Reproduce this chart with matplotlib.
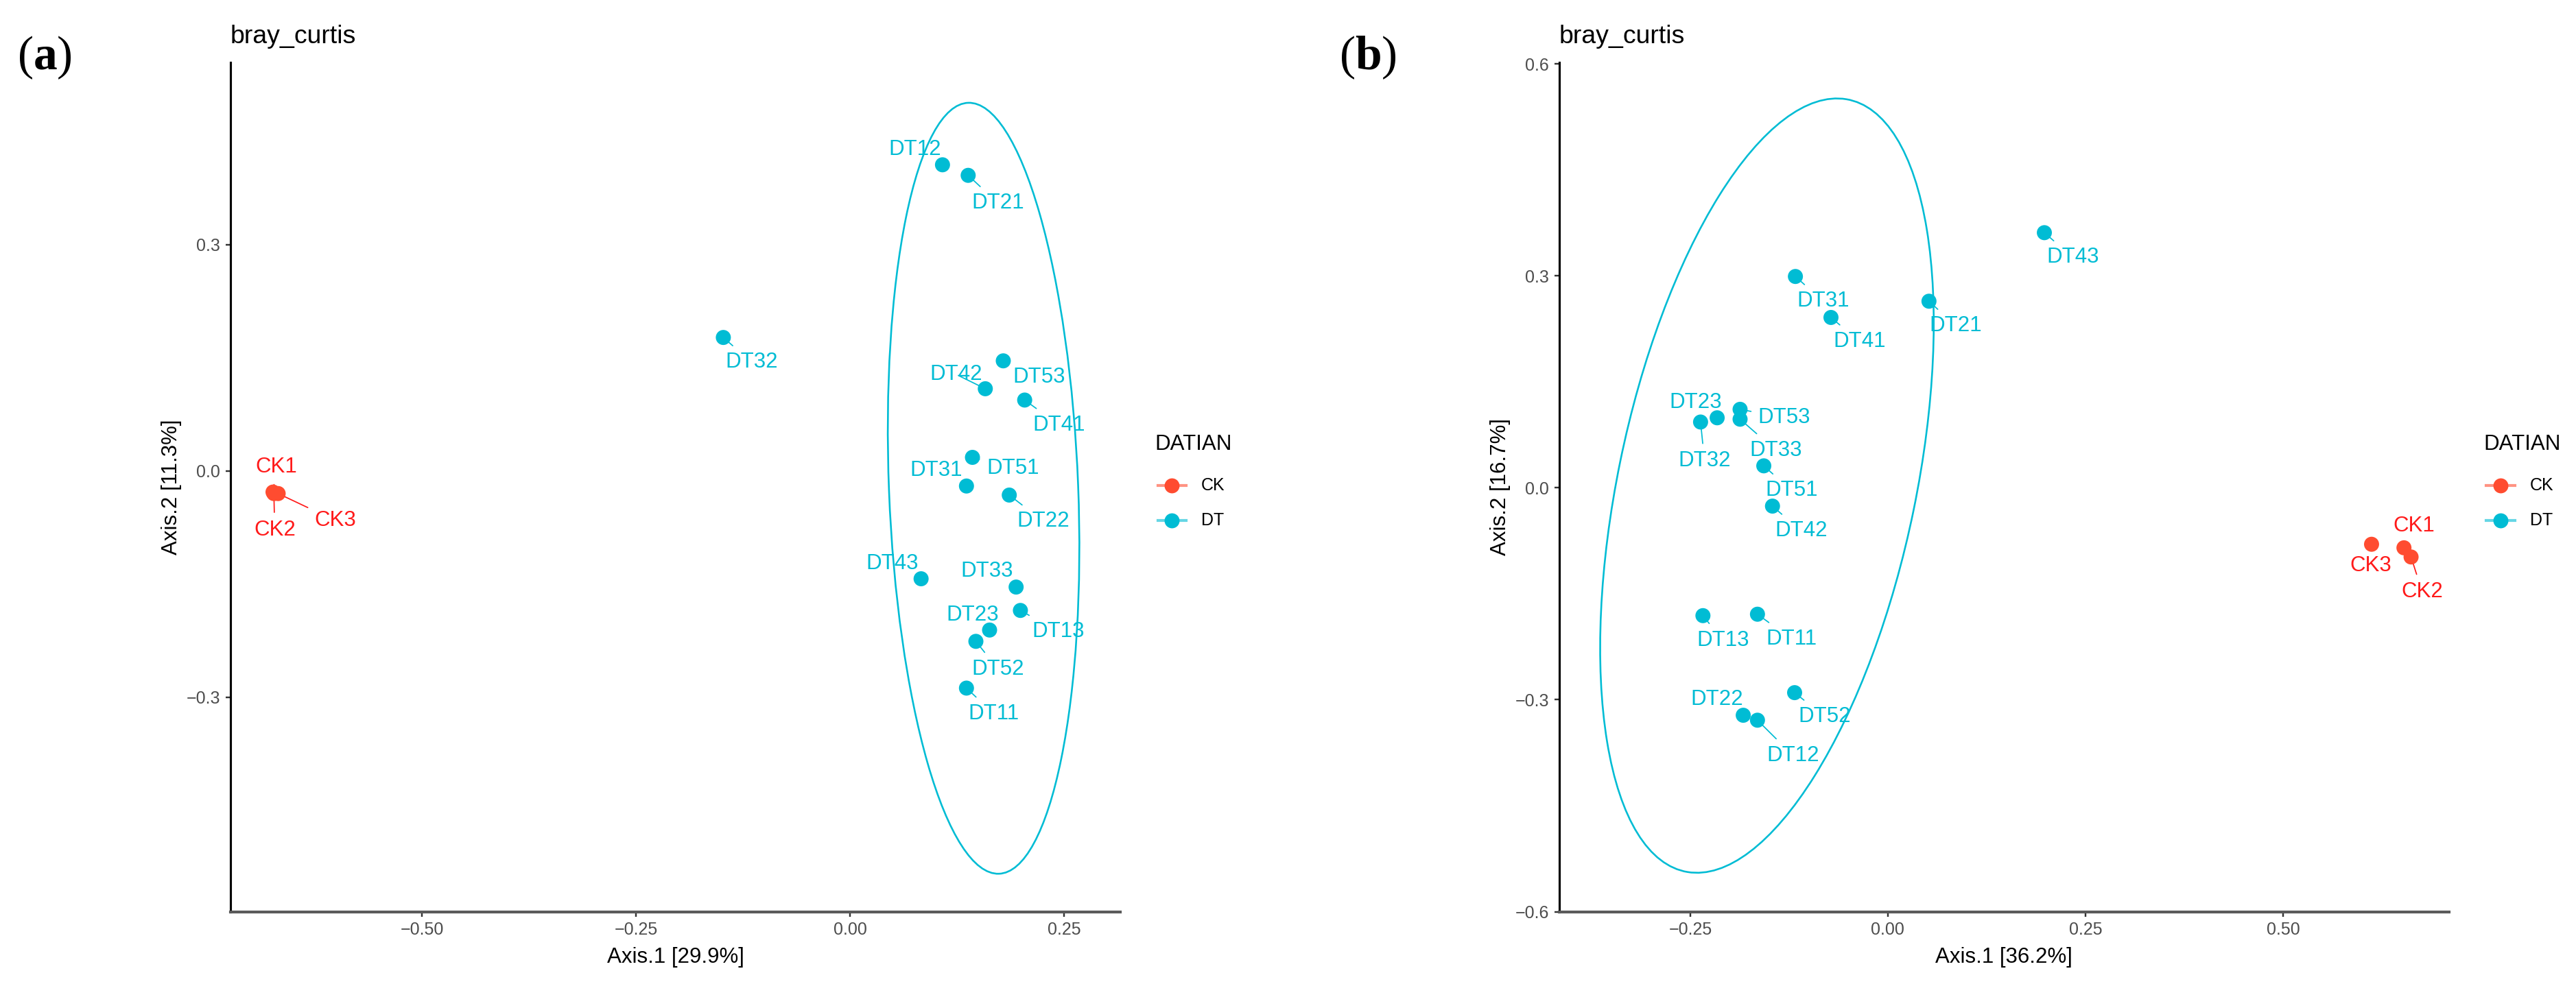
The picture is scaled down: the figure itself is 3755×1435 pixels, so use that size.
import numpy as np
import matplotlib
matplotlib.use("Agg")
import matplotlib.pyplot as plt
from matplotlib.patches import Ellipse

plt.rcParams['font.family'] = ['Liberation Sans', 'DejaVu Sans']
plt.rcParams['mathtext.fontset'] = 'custom'
plt.rcParams['mathtext.rm'] = 'Liberation Serif'
plt.rcParams['mathtext.bf'] = 'Liberation Serif:bold'

# sample names (same order in both panels)
samples = ['CK1', 'CK2', 'CK3', 'DT11', 'DT12', 'DT13', 'DT21', 'DT22', 'DT23',
           'DT31', 'DT32', 'DT33', 'DT41', 'DT42', 'DT43', 'DT51', 'DT52', 'DT53']

# panel (a) PCoA coordinates
a_axis1 = [-0.674, -0.673, -0.668, 0.136, 0.108, 0.199, 0.138, 0.186, 0.163,
           0.136, -0.148, 0.194, 0.204, 0.158, 0.083, 0.143, 0.147, 0.179]
a_axis2 = [-0.028, -0.030, -0.030, -0.288, 0.406, -0.185, 0.392, -0.032, -0.211,
           -0.020, 0.177, -0.154, 0.094, 0.109, -0.143, 0.018, -0.226, 0.146]

# panel (b) PCoA coordinates
b_axis1 = [0.653, 0.662, 0.612, -0.165, -0.165, -0.234, 0.052, -0.183, -0.216,
           -0.117, -0.237, -0.187, -0.072, -0.146, 0.198, -0.157, -0.118, -0.187]
b_axis2 = [-0.085, -0.098, -0.080, -0.179, -0.329, -0.181, 0.264, -0.322, 0.099,
           0.299, 0.093, 0.097, 0.241, -0.026, 0.361, 0.031, -0.290, 0.111]

a_xlabel = 'Axis.1 [29.9%]'
a_ylabel = 'Axis.2 [11.3%]'
b_xlabel = 'Axis.1 [36.2%]'
b_ylabel = 'Axis.2 [16.7%]'

a_xticks = [-0.50, -0.25, 0.00, 0.25]
a_xticklabels = ['\u22120.50', '\u22120.25', '0.00', '0.25']
a_yticks = [-0.3, 0.0, 0.3]
a_yticklabels = ['\u22120.3', '0.0', '0.3']
b_xticks = [-0.25, 0.00, 0.25, 0.50]
b_xticklabels = ['\u22120.25', '0.00', '0.25', '0.50']
b_yticks = [-0.6, -0.3, 0.0, 0.3, 0.6]
b_yticklabels = ['\u22120.6', '\u22120.3', '0.0', '0.3', '0.6']

# repelled label positions (layout, data units)
a_label_pos = {
    'CK1': (-0.670, 0.005), 'CK2': (-0.672, -0.078), 'CK3': (-0.601, -0.066),
    'DT11': (0.168, -0.322), 'DT12': (0.076, 0.426), 'DT13': (0.243, -0.213),
    'DT21': (0.173, 0.355), 'DT22': (0.226, -0.067), 'DT23': (0.143, -0.191),
    'DT31': (0.101, 0.001), 'DT32': (-0.115, 0.144), 'DT33': (0.160, -0.133),
    'DT41': (0.244, 0.061), 'DT42': (0.124, 0.128), 'DT43': (0.049, -0.123),
    'DT51': (0.190, 0.003), 'DT52': (0.173, -0.263), 'DT53': (0.221, 0.124),
}
b_label_pos = {
    'CK1': (0.666, -0.054), 'CK2': (0.676, -0.147), 'CK3': (0.611, -0.110),
    'DT11': (-0.122, -0.214), 'DT12': (-0.120, -0.379), 'DT13': (-0.209, -0.216),
    'DT21': (0.086, 0.229), 'DT22': (-0.216, -0.300), 'DT23': (-0.243, 0.121),
    'DT31': (-0.082, 0.264), 'DT32': (-0.232, 0.038), 'DT33': (-0.142, 0.053),
    'DT41': (-0.036, 0.207), 'DT42': (-0.110, -0.061), 'DT43': (0.234, 0.326),
    'DT51': (-0.122, -0.004), 'DT52': (-0.080, -0.324), 'DT53': (-0.131, 0.099),
}

# 95% ellipse of the DT group: centre, width, height, angle (data units)
a_ellipse = ((0.156, -0.023), 0.221, 1.023, 2.0)
b_ellipse = ((-0.153, 0.003), 0.3775, 1.112, -10.4)

point_colors = {'CK': '#FF4C30', 'DT': '#00BCD4'}
text_colors = {'CK': '#FF1A1A', 'DT': '#00BCD4'}


def draw_panel(ax, xs, ys, label_pos, ellipse, xlabel, ylabel,
               xticks, xticklabels, yticks, yticklabels, xlim, ylim):
    groups = [s[:2] for s in samples]

    (cx, cy), w, h, ang = ellipse
    ax.add_patch(Ellipse((cx, cy), w, h, angle=ang, fill=False,
                         edgecolor=point_colors['DT'], lw=0.75, zorder=1))

    for s, g, x, y in zip(samples, groups, xs, ys):
        lx, ly = label_pos[s]
        ax.annotate(s, xy=(x, y), xytext=(lx, ly), ha='center', va='center',
                    fontsize=9, color=text_colors[g], zorder=2,
                    arrowprops=dict(arrowstyle='-', color=text_colors[g],
                                    lw=0.5, shrinkA=1, shrinkB=0))

    for g in ['CK', 'DT']:
        gx = [x for x, gg in zip(xs, groups) if gg == g]
        gy = [y for y, gg in zip(ys, groups) if gg == g]
        ax.scatter(gx, gy, s=40, color=point_colors[g], edgecolors='none', zorder=3)

    ax.set_xlim(*xlim)
    ax.set_ylim(*ylim)
    ax.set_xticks(xticks)
    ax.set_xticklabels(xticklabels)
    ax.set_yticks(yticks)
    ax.set_yticklabels(yticklabels)
    ax.tick_params(length=2.1, width=0.7, color='#333333', labelcolor='#4D4D4D',
                   labelsize=7.2, pad=2.2)
    ax.set_xlabel(xlabel, fontsize=9, labelpad=3.5)
    ax.set_ylabel(ylabel, fontsize=9, labelpad=2)
    for side in ['top', 'right']:
        ax.spines[side].set_visible(False)
    ax.spines['left'].set_linewidth(0.9)
    ax.spines['left'].set_color('black')
    ax.spines['bottom'].set_linewidth(1.2)
    ax.spines['bottom'].set_color('#5A5A5A')

    # legend
    ax.text(1.039, 0.55, 'DATIAN', transform=ax.transAxes, fontsize=9,
            ha='left', va='center', color='black')
    for g, yk in zip(['CK', 'DT'], [0.502, 0.461]):
        ax.plot([1.042, 1.074], [yk, yk], transform=ax.transAxes, clip_on=False,
                color=point_colors[g], lw=1.2, alpha=0.6)
        ax.plot([1.058], [yk], transform=ax.transAxes, clip_on=False, marker='o',
                ms=6.3, mec='none', color=point_colors[g])
        ax.text(1.091, yk, g, transform=ax.transAxes, fontsize=7.2,
                ha='left', va='center', color='black')


fig = plt.figure(figsize=(15.02, 5.74), dpi=250)
ax_a = fig.add_axes([0.0895, 0.0735, 0.3454, 0.8631])
ax_b = fig.add_axes([0.6053, 0.0735, 0.3454, 0.8631])

draw_panel(ax_a, a_axis1, a_axis2, a_label_pos, a_ellipse, a_xlabel, a_ylabel,
           a_xticks, a_xticklabels, a_yticks, a_yticklabels,
           (-0.7236, 0.3157), (-0.5845, 0.5418))
draw_panel(ax_b, b_axis1, b_axis2, b_label_pos, b_ellipse, b_xlabel, b_ylabel,
           b_xticks, b_xticklabels, b_yticks, b_yticklabels,
           (-0.4158, 0.710), (-0.600, 0.602))

for ax, lab, lx in [(ax_a, 'a', 0.0067), (ax_b, 'b', 0.5198)]:
    fig.text(ax.get_position().x0, 0.963, 'bray_curtis', fontsize=10.8,
             ha='left', va='center')
    fig.text(lx, 0.9415, '($\\mathbf{' + lab + '}$)', fontsize=20,
             ha='left', va='center', family='Liberation Serif')

fig.savefig('out.png', dpi=250)
